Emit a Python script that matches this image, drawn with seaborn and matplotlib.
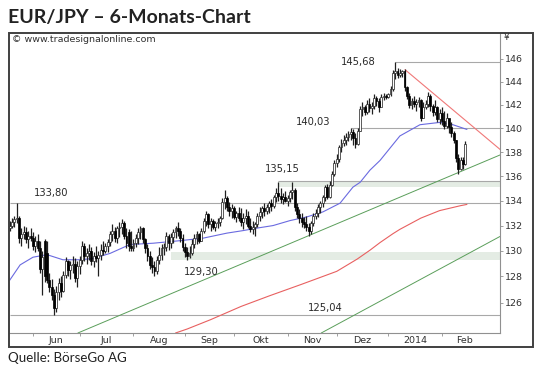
import numpy as np
import pandas as pd
import matplotlib
matplotlib.use("Agg")
import matplotlib.pyplot as plt
from matplotlib.patches import Rectangle
import seaborn as sns

# === Daily candles EUR/JPY ===
dates = pd.bdate_range("2013-05-20", "2014-02-17")

opens = [
    131.8, 132.0, 132.3, 132.5, 132.6, 131.0, 131.3, 131.5, 130.9, 131.2,
    131.0, 130.4, 130.8, 130.2, 128.6, 130.8, 129.8, 127.7, 127.2, 126.6,
    125.6, 126.8, 127.5, 126.9, 128.1, 129.2, 128.5, 128.9, 129.0, 127.9,
    128.8, 129.3, 130.4, 129.6, 129.8, 130.0, 129.2, 129.6, 129.4, 129.7,
    130.1, 130.0, 130.4, 130.7, 131.3, 131.6, 131.0, 131.8, 131.9, 132.2,
    131.2, 131.5, 130.4, 130.2, 130.6, 131.0, 131.5, 131.8, 130.9, 130.2,
    129.6, 128.9, 128.7, 128.4, 129.3, 129.7, 130.2, 130.3, 131.2, 130.6,
    131.1, 131.5, 131.8, 131.6, 131.0, 130.3, 129.9, 129.6, 129.8, 130.5,
    131.0, 131.3, 130.8, 131.6, 132.4, 132.9, 132.1, 132.4, 131.9, 132.2,
    132.3, 132.6, 133.9, 134.2, 133.5, 133.2, 133.4, 132.7, 133.0, 132.6,
    132.3, 132.6, 132.8, 132.0, 131.7, 131.9, 132.1, 132.8, 133.1, 133.4,
    133.2, 133.5, 133.8, 133.6, 134.3, 134.6, 134.4, 134.1, 134.3, 134.0,
    134.2, 134.7, 134.9, 133.5, 132.9, 132.6, 132.3, 132.1, 131.9, 131.6,
    132.2, 132.8, 133.0, 133.5, 133.8, 134.3, 135.1, 134.3, 135.3, 136.2,
    137.1, 137.4, 138.4, 138.8, 139.0, 139.3, 139.5, 139.7, 139.2, 138.7,
    139.8, 141.6, 141.8, 141.4, 142.1, 141.7, 141.9, 142.6, 142.3, 141.8,
    142.7, 142.8, 142.7, 142.9, 143.4, 144.8, 144.9, 144.6, 144.8, 144.9,
    143.5, 142.8, 142.0, 142.3, 142.1, 142.2, 142.4, 140.9, 141.8, 142.1,
    142.8, 141.9, 141.4, 141.8, 140.8, 141.3, 140.6, 140.2, 140.9, 140.1,
    139.6, 139.0, 137.5, 136.6, 137.3, 137.0,
]
highs = [
    132.4, 132.6, 132.8, 133.8, 132.8, 131.8, 132.0, 131.9, 131.6, 131.8,
    131.5, 131.2, 131.3, 130.8, 130.0, 130.9, 130.8, 128.3, 127.8, 127.0,
    127.3, 127.9, 128.0, 128.4, 129.5, 129.3, 129.2, 129.6, 129.4, 129.2,
    129.6, 130.8, 130.6, 130.2, 130.5, 130.3, 129.9, 130.4, 130.0, 130.5,
    130.8, 130.6, 130.9, 131.6, 132.1, 131.9, 132.0, 132.3, 132.5, 132.4,
    131.8, 131.7, 131.6, 130.9, 131.3, 131.8, 132.0, 131.9, 131.0, 130.5,
    130.0, 129.5, 129.2, 129.6, 130.3, 130.5, 130.6, 131.5, 131.3, 131.4,
    131.7, 132.0, 132.3, 131.8, 131.3, 130.6, 130.3, 130.4, 130.9, 131.3,
    131.6, 131.4, 131.8, 132.6, 133.2, 133.0, 132.6, 132.5, 132.4, 132.6,
    132.8, 134.2, 134.9, 134.4, 133.9, 133.7, 133.6, 133.2, 133.5, 133.4,
    133.0, 133.3, 133.2, 132.6, 132.4, 132.3, 133.0, 133.5, 133.6, 133.8,
    133.7, 134.0, 134.1, 134.5, 135.0, 135.55, 135.0, 134.6, 134.8, 134.5,
    134.9, 135.5, 135.0, 133.8, 133.3, 133.0, 132.7, 132.8, 132.2, 132.4,
    133.0, 133.3, 133.7, 134.0, 134.5, 135.3, 135.4, 135.6, 136.4, 137.3,
    137.8, 138.6, 139.1, 139.4, 139.6, 139.8, 140.03, 139.9, 139.6, 140.0,
    141.9, 142.2, 142.0, 142.4, 142.6, 142.2, 142.9, 142.8, 142.6, 142.9,
    143.0, 142.9, 143.0, 143.6, 145.0, 145.68, 145.2, 145.1, 145.0, 145.1,
    143.6, 143.0, 142.6, 142.8, 142.5, 142.7, 142.5, 142.2, 142.4, 143.1,
    142.9, 142.1, 142.4, 141.9, 141.6, 141.8, 141.5, 141.3, 140.8, 140.5,
    139.8, 139.0, 137.8, 137.6, 137.6, 138.9,
]
lows = [
    131.6, 131.8, 131.9, 132.2, 130.6, 130.4, 130.9, 130.6, 130.2, 130.8,
    130.1, 129.9, 130.0, 128.3, 126.6, 127.6, 127.5, 126.8, 126.2, 125.04,
    125.3, 126.2, 126.4, 126.8, 127.9, 128.0, 127.8, 128.3, 127.6, 127.2,
    128.2, 129.0, 129.2, 129.0, 129.3, 128.9, 128.7, 129.1, 128.0, 129.3,
    129.7, 129.8, 129.9, 130.4, 130.8, 130.7, 130.6, 131.1, 131.3, 130.9,
    130.2, 130.0, 130.0, 130.0, 130.3, 130.5, 130.9, 130.6, 129.8, 129.2,
    128.6, 128.3, 128.0, 128.2, 129.0, 129.3, 129.7, 130.0, 130.1, 130.2,
    130.6, 131.0, 131.2, 130.7, 130.0, 129.5, 129.3, 129.4, 129.7, 130.2,
    130.5, 130.6, 130.8, 131.4, 132.0, 131.8, 131.6, 131.7, 131.6, 131.8,
    132.0, 132.5, 133.3, 133.2, 132.8, 132.6, 132.5, 132.3, 132.4, 132.0,
    131.7, 132.1, 131.8, 131.5, 131.3, 131.2, 131.9, 132.4, 132.6, 132.8,
    132.9, 133.0, 133.2, 133.4, 133.9, 134.0, 133.8, 133.7, 133.9, 133.6,
    133.9, 134.1, 133.2, 132.6, 132.2, 131.9, 131.8, 131.6, 131.2, 131.3,
    132.0, 132.5, 132.7, 133.0, 133.5, 134.0, 134.1, 134.2, 135.2, 136.0,
    136.8, 137.2, 138.0, 138.5, 138.6, 138.9, 139.0, 138.6, 138.3, 138.6,
    139.8, 141.0, 141.1, 141.2, 141.4, 141.2, 141.6, 141.9, 141.4, 141.9,
    142.4, 142.5, 142.6, 142.8, 143.2, 144.2, 144.3, 144.4, 144.4, 143.2,
    142.5, 141.7, 141.6, 141.8, 141.5, 141.8, 140.6, 140.9, 141.6, 141.8,
    141.5, 141.0, 141.1, 140.5, 140.4, 140.3, 139.9, 140.0, 139.6, 139.3,
    138.8, 137.2, 136.2, 136.5, 136.6, 136.9,
]
closes = [
    132.0, 132.3, 132.5, 132.6, 131.0, 131.3, 131.5, 130.9, 131.2, 131.0,
    130.4, 130.8, 130.2, 128.6, 129.5, 128.0, 127.7, 127.2, 126.6, 125.6,
    126.8, 127.5, 126.9, 128.1, 129.2, 128.5, 128.9, 129.0, 127.9, 128.8,
    129.3, 130.4, 129.6, 129.8, 130.0, 129.2, 129.6, 129.4, 129.7, 130.1,
    130.0, 130.4, 130.7, 131.3, 131.6, 131.0, 131.8, 131.9, 132.2, 131.2,
    130.6, 130.4, 130.2, 130.6, 131.0, 131.5, 131.8, 130.9, 130.2, 129.6,
    128.9, 128.7, 128.4, 129.3, 129.7, 130.2, 130.3, 131.2, 130.6, 131.1,
    131.5, 131.8, 131.6, 131.0, 130.3, 129.9, 129.6, 129.8, 130.5, 131.0,
    131.3, 130.8, 131.6, 132.4, 132.9, 132.1, 132.4, 131.9, 132.2, 132.3,
    132.6, 133.9, 134.2, 133.5, 133.2, 133.4, 132.7, 133.0, 132.6, 132.3,
    132.6, 132.8, 132.0, 131.7, 131.9, 132.1, 132.8, 133.1, 133.4, 133.2,
    133.5, 133.8, 133.6, 134.3, 134.6, 134.4, 134.1, 134.3, 134.0, 134.2,
    134.7, 134.9, 133.5, 132.9, 132.6, 132.3, 132.1, 131.9, 131.6, 132.2,
    132.8, 133.0, 133.5, 133.8, 134.3, 135.1, 134.3, 135.3, 136.2, 137.1,
    137.4, 138.4, 138.8, 139.0, 139.3, 139.5, 139.7, 139.2, 138.7, 139.8,
    141.6, 141.8, 141.4, 142.1, 141.7, 141.9, 142.6, 142.3, 141.8, 142.7,
    142.8, 142.7, 142.9, 143.4, 144.8, 144.9, 144.6, 144.8, 144.9, 143.5,
    142.8, 142.0, 142.3, 142.1, 142.2, 142.4, 140.9, 141.8, 142.1, 142.8,
    141.9, 141.4, 141.8, 140.8, 141.3, 140.6, 140.2, 140.9, 140.1, 139.6,
    139.0, 137.5, 136.6, 137.3, 137.0, 138.7,
]

# === Moving averages (sampled from the chart, bar number -> value) ===
ma_blue_x = [0, 4.5, 10, 16, 22.8, 30.1, 35.7, 43, 51.5, 61.4, 72.9, 82.8, 93, 99.9,
             105.9, 112.7, 120, 127.3, 134.1, 141.4, 146.9, 150, 154.2, 158.5, 167,
             175.6, 184.2, 189.7, 195.7]
ma_blue_y = [127.7, 128.9, 129.5, 129.7, 129.3, 129.3, 129.4, 129.8, 130.5, 130.6, 130.8,
             131.0, 131.4, 131.6, 131.8, 132.0, 132.4, 132.7, 133.1, 133.8, 135.1, 135.5,
             136.5, 137.3, 139.35, 140.3, 140.5, 140.3, 139.9]
ma_red_x = [71, 76, 86, 99, 111, 125, 140, 148.7, 154.2, 158.5, 164, 167, 176, 184, 193, 195.7]
ma_red_y = [123.7, 124.0, 124.7, 125.7, 126.5, 127.4, 128.4, 129.35, 130.05, 130.65, 131.35,
            131.7, 132.6, 133.2, 133.6, 133.7]

# === Trend lines (two anchor points each) ===
up_green_pts = [(128, 131.2), (192, 136.3)]
low_green_pts = [(136, 123.95), (209, 131.05)]
red_trend_x = [169.2, 210]
red_trend_y = [145.05, 138.2]

# === Marked levels ===
levels = [145.68, 140.03, 133.80, 125.04]
level_start = [165, 146, 0, 0]
zone_hi = (135.15, 135.6, 115)   # low, high, starting bar
zone_lo = (129.30, 129.9, 69)
y_ticks = list(range(126, 147, 2))
month_labels = ["Jun", "Jul", "Aug", "Sep", "Okt", "Nov", "Dez", "2014", "Feb"]

sns.set_style("white")
plt.rcParams["font.family"] = ["DejaVu Sans"]

W, H = 540, 374
fig = plt.figure(figsize=(W / 100, H / 100), dpi=100)
ax = fig.add_axes([9 / W, 41 / H, 491 / W, 300 / H])
ax.set_yscale("log")

n = len(dates)
xs = np.arange(n)

# zones and level lines
for lo, hi, start in (zone_hi, zone_lo):
    ax.fill_between([start, n + 20], lo, hi, color="#e4ece4", lw=0, zorder=0)
ax.hlines(zone_hi[1], zone_hi[2], n + 20, color="#a8a8a8", lw=0.8, zorder=1)
for lv, st in zip(levels, level_start):
    ax.hlines(lv, st, n + 20, color="#a8a8a8", lw=0.8, zorder=1)

# trend lines
ax.axline(up_green_pts[0], up_green_pts[1], color="#5a9e5a", lw=0.7, zorder=2)
ax.axline(low_green_pts[0], low_green_pts[1], color="#5a9e5a", lw=0.7, zorder=2)
sns.lineplot(x=red_trend_x, y=red_trend_y, color="#f07878", lw=0.8, ax=ax, zorder=2)

# moving averages
sns.lineplot(x=ma_blue_x, y=ma_blue_y, color="#6a6ae0", lw=0.8, ax=ax, zorder=2)
sns.lineplot(x=ma_red_x, y=ma_red_y, color="#e86060", lw=0.8, ax=ax, zorder=2)

# candles
o, h, l, c = map(np.array, (opens, highs, lows, closes))
ax.vlines(xs, l, h, color="#202020", lw=0.9, zorder=3)
up = c >= o
ax.bar(xs[up], np.abs(c - o)[up], bottom=np.minimum(o, c)[up], width=0.8,
       color="white", edgecolor="#202020", lw=0.5, zorder=4)
ax.bar(xs[~up], np.abs(c - o)[~up], bottom=np.minimum(o, c)[~up], width=0.8,
       color="black", edgecolor="black", lw=0.5, zorder=4)

ax.set_xlim(-0.26, 209.85)
ax.set_ylim(123.7, 148.3)

# axes styling
for s in ("left", "top"):
    ax.spines[s].set_visible(False)
for s in ("right", "bottom"):
    ax.spines[s].set_color("#909090")
    ax.spines[s].set_linewidth(0.8)

ax.yaxis.tick_right()
ax.set_yticks(y_ticks)
ax.set_yticklabels([str(t) for t in y_ticks])
ax.minorticks_off()
ax.tick_params(axis="y", which="major", length=2.5, width=0.6, color="#909090",
               labelsize=6.8, labelcolor="#303030", pad=1, right=True)

months = pd.Series(xs, index=dates).groupby(dates.to_period("M")).first().values[1:]
ax.set_xticks(months)
ax.set_xticklabels([])
ax.tick_params(axis="x", which="major", length=2, width=0.6, color="#909090",
               bottom=True, direction="out")
mids = [(a + b) / 2 for a, b in zip(months[:-1], months[1:])] + [months[-1] + 9.5]
ax.set_xticks(mids, minor=True)
ax.set_xticklabels(month_labels, minor=True)
ax.tick_params(axis="x", which="minor", length=0, labelsize=6.8, labelcolor="#303030", pad=2)
ax.set_xlabel("")
ax.set_ylabel("")


def px(x, y):
    return x / W, 1 - y / H


# price labels
for txt, (x, y) in [("145,68", (358, 62)), ("140,03", (313, 121.5)),
                    ("135,15", (282, 169)), ("133,80", (51, 192.7)),
                    ("129,30", (201, 272)), ("125,04", (325, 308))]:
    fig.text(*px(x, y), txt, ha="center", va="center", fontsize=7.2, color="#2a2a2a")

fig.text(*px(506, 38), "¥", ha="center", va="center", fontsize=6.5, color="#303030")
fig.text(*px(12, 40), "© www.tradesignalonline.com", ha="left", va="center",
         fontsize=6.8, color="#303030")

# outer frame
fig.add_artist(Rectangle((9 / W, 27 / H), 524 / W, 314 / H, transform=fig.transFigure,
                         fill=False, ec="#404040", lw=1.4))

fig.text(*px(8, 17), "EUR/JPY – 6-Monats-Chart", ha="left", va="center",
         fontsize=14, fontweight="bold", family=["Lato", "DejaVu Sans"], color="#222222")
fig.text(*px(8, 358), "Quelle: BörseGo AG", ha="left", va="center",
         fontsize=9.6, family=["Lato", "DejaVu Sans"], color="#222222")

fig.savefig("out.png", dpi=100)
